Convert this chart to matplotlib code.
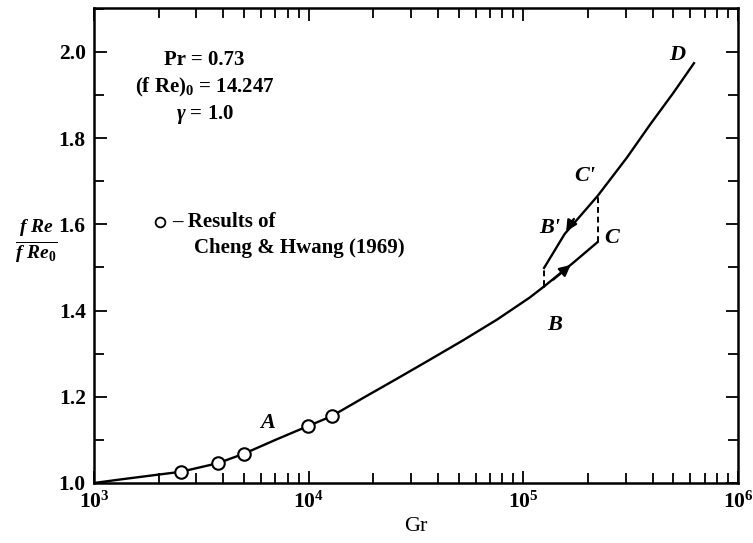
import numpy as np
import matplotlib.pyplot as plt
from matplotlib.ticker import FixedLocator, MultipleLocator, NullFormatter

plt.rcParams['font.family'] = 'Liberation Serif'
plt.rcParams['mathtext.fontset'] = 'custom'
plt.rcParams['mathtext.rm'] = 'Liberation Serif:bold'
plt.rcParams['mathtext.it'] = 'Liberation Serif:italic:bold'
plt.rcParams['mathtext.bf'] = 'Liberation Serif:bold'

# основная кривая (ветвь A -> B)
gr_main = [1000, 1365, 1963, 2540, 3780, 5000, 7000, 9930, 12800, 17900, 25800,
           36700, 52400, 75400, 107000, 125000]
f_main = [1.000, 1.009, 1.019, 1.026, 1.046, 1.068, 1.100, 1.132, 1.155, 1.197, 1.242,
          1.286, 1.331, 1.379, 1.430, 1.456]

# нижняя ветвь B -> C
gr_low = [125000, 170000, 222000]
f_low = [1.456, 1.510, 1.559]

# верхняя ветвь B' -> C' -> D
gr_up = [125000, 156000, 222000, 304000, 389000, 500000, 624000]
f_up = [1.499, 1.578, 1.666, 1.755, 1.831, 1.905, 1.974]

# точки Cheng & Hwang (1969)
gr_pts = [2540, 3780, 5000, 9930, 12800]
f_pts = [1.026, 1.046, 1.068, 1.132, 1.155]

fig = plt.figure(figsize=(7.53, 5.43), dpi=100)
ax = fig.add_axes([0.1248, 0.1105, 0.8552, 0.8748])

lw = 1.7
ax.plot(gr_main, f_main, color='black', lw=lw)
ax.plot(gr_low, f_low, color='black', lw=lw)
ax.plot(gr_up, f_up, color='black', lw=lw)

# пунктирные переходы B -> B' и C -> C'
ax.plot([gr_low[0], gr_up[0]], [f_low[0], f_up[0]], color='black', lw=1.4, ls=(0, (3, 2)))
ax.plot([gr_low[-1], gr_up[2]], [f_low[-1], f_up[2]], color='black', lw=1.4, ls=(0, (3, 2)))

ax.plot(gr_pts, f_pts, 'o', ms=9, mfc='white', mec='black', mew=1.5, zorder=5)

# стрелки
arr = dict(arrowstyle='-|>', color='black', lw=lw, mutation_scale=16)
ax.annotate('', xy=(gr_low[1], f_low[1]), xytext=(gr_low[0] * 1.08, f_low[0] + 0.012),
            arrowprops=arr)
ax.annotate('', xy=(gr_up[1], f_up[1]), xytext=(gr_up[1] * 1.12, f_up[1] + 0.04),
            arrowprops=arr)

ax.set_xscale('log')
ax.set_xlim(1e3, 1e6)
ax.set_ylim(1.0, 2.102)

ax.xaxis.set_major_locator(FixedLocator([1e3, 1e4, 1e5, 1e6]))
ax.set_xticklabels([r'$10^3$', r'$10^4$', r'$10^5$', r'$10^6$'])
ax.xaxis.set_minor_locator(FixedLocator([m * 10 ** e for e in (3, 4, 5) for m in range(2, 10)]))
ax.xaxis.set_minor_formatter(NullFormatter())
ax.yaxis.set_major_locator(FixedLocator([1.0, 1.2, 1.4, 1.6, 1.8, 2.0]))
ax.yaxis.set_minor_locator(MultipleLocator(0.1))

ax.tick_params(which='both', direction='in', top=True, right=True, width=1.3, labelsize=15.5)
ax.tick_params(which='major', length=9, pad=6)
ax.tick_params(which='minor', length=7)
for lab in ax.get_yticklabels():
    lab.set_fontweight('bold')
for sp in ax.spines.values():
    sp.set_linewidth(1.8)

ax.set_xlabel('Gr', fontsize=16, labelpad=3)
ax.text(-0.089, 0.508, r'$\frac{f\ Re}{f\ Re_0}$', transform=ax.transAxes,
        fontsize=20, ha='center', va='center')

# параметры
tkw = dict(transform=ax.transAxes, fontsize=15, ha='center', va='center', fontweight='bold')
ax.text(0.172, 0.891, 'Pr = 0.73', **tkw)
ax.text(0.172, 0.832, r'(f Re)$_0$ = 14.247', **tkw)
ax.text(0.172, 0.775, r'$\gamma$ = 1.0', **tkw)

ax.plot([0.102], [0.549], 'o', ms=7, mfc='white', mec='black', mew=1.3, transform=ax.transAxes)
ax.text(0.122, 0.549, '– Results of', transform=ax.transAxes, fontsize=15, va='center', fontweight='bold')
ax.text(0.155, 0.495, 'Cheng & Hwang (1969)', transform=ax.transAxes, fontsize=15, va='center',
        fontweight='bold')

# метки точек
lkw = dict(fontsize=16, style='italic', fontweight='bold', ha='center', va='center')
ax.text(6460, 1.139, 'A', **lkw)
ax.text(140000, 1.367, 'B', **lkw)
ax.text(259000, 1.568, 'C', **lkw)
ax.text(133000, 1.592, "B'", **lkw)
ax.text(194000, 1.712, "C'", **lkw)
ax.text(519000, 1.993, 'D', **lkw)

plt.savefig('out.png', dpi=100)
